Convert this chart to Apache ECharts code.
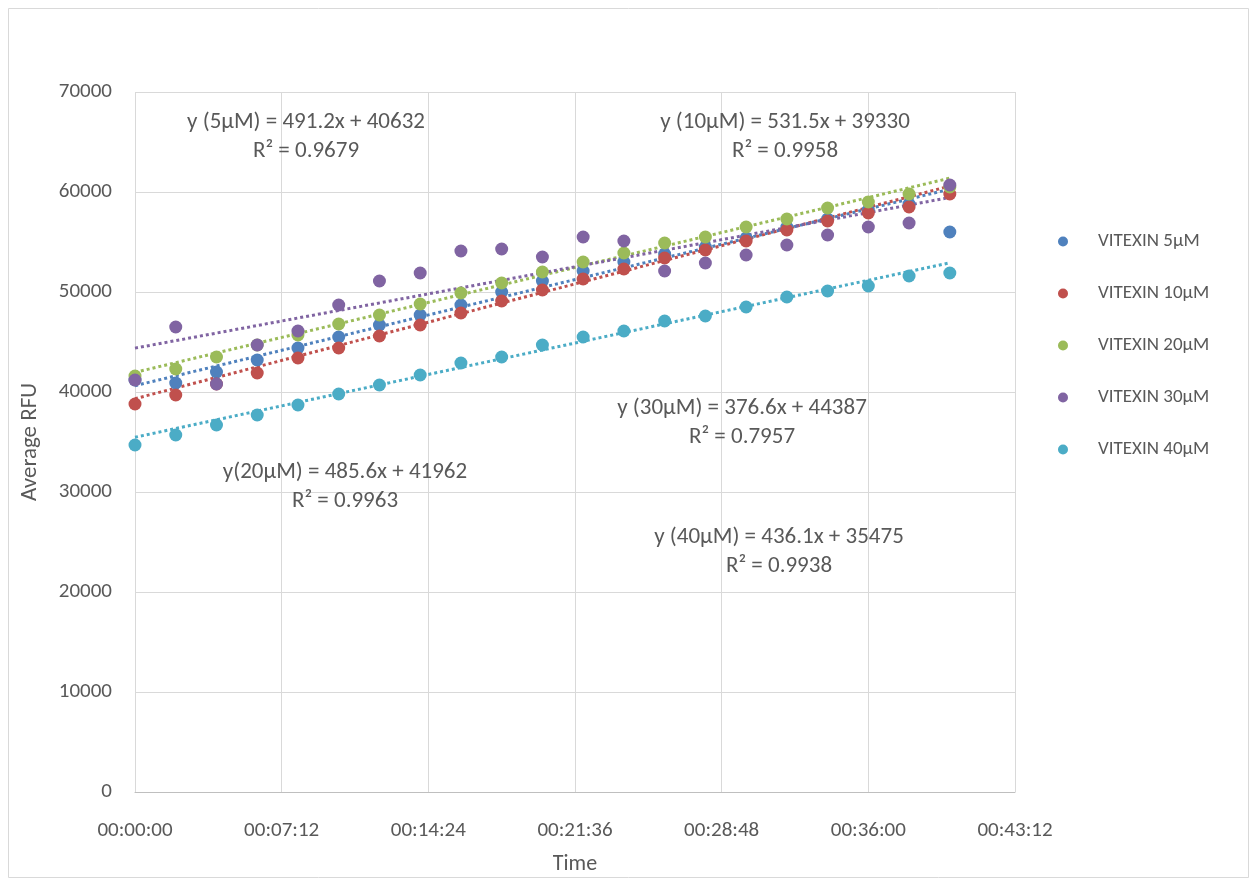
<!DOCTYPE html>
<html>
<head>
<meta charset="utf-8">
<script src="https://cdn.jsdelivr.net/npm/echarts@6/dist/echarts.min.js"></script>
<style>
  html, body { margin: 0; padding: 0; background: #ffffff; }
  #chart { width: 1256px; height: 882px; }
</style>
</head>
<body>
<div id="chart"></div>
<script>
// Sampling times in minutes (one reading every 2 min)
var minutes = [0, 2, 4, 6, 8, 10, 12, 14, 16, 18, 20, 22, 24, 26, 28, 30, 32, 34, 36, 38, 40];

// Average RFU per concentration
var vit5  = [41200, 40900, 42000, 43200, 44400, 45500, 46700, 47700, 48700, 50000, 51100, 52100, 53000, 53800, 54500, 55400, 56500, 57300, 58200, 58800, 56000];
var vit10 = [38800, 39700, 40800, 41900, 43400, 44400, 45600, 46700, 47900, 49100, 50200, 51300, 52300, 53400, 54200, 55100, 56200, 57100, 57900, 58500, 59800];
var vit20 = [41600, 42300, 43500, 44700, 45700, 46800, 47700, 48800, 49900, 50900, 52000, 53000, 53900, 54900, 55500, 56500, 57300, 58400, 59000, 59800, 60500];
var vit30 = [41200, 46500, 40800, 44700, 46100, 48700, 51100, 51900, 54100, 54300, 53500, 55500, 55100, 52100, 52900, 53700, 54700, 55700, 56500, 56900, 60700];
var vit40 = [34700, 35700, 36700, 37700, 38700, 39800, 40700, 41700, 42900, 43500, 44700, 45500, 46100, 47100, 47600, 48500, 49500, 50100, 50600, 51600, 51900];

var seriesNames = ['VITEXIN 5µM', 'VITEXIN 10µM', 'VITEXIN 20µM', 'VITEXIN 30µM', 'VITEXIN 40µM'];
var seriesValues = [vit5, vit10, vit20, vit30, vit40];
var seriesColors = ['#4F81BD', '#C0504D', '#9BBB59', '#8064A2', '#4BACC6'];

// Linear trend fits (RFU = slope * minutes + intercept)
var trendSlope = [491.2, 531.5, 485.6, 376.6, 436.1];
var trendIntercept = [40632, 39330, 41962, 44387, 35475];

// Fit labels
var fitLabels = [
  ['y (5µM) = 491.2x + 40632', 'R² = 0.9679'],
  ['y (10µM) = 531.5x + 39330', 'R² = 0.9958'],
  ['y(20µM) = 485.6x + 41962', 'R² = 0.9963'],
  ['y (30µM) = 376.6x + 44387', 'R² = 0.7957'],
  ['y (40µM) = 436.1x + 35475', 'R² = 0.9938']
];

// Y ticks
var yMax = 70000, yStep = 10000;
// X ticks: 7.2 min = 00:07:12
var xMax = 43.2, xStep = 7.2;

var FONT = 'Carlito, "Liberation Sans", "Open Sans", sans-serif';
var TEXT = '#595959';

function hms(m) {
  var s = Math.round(m * 60);
  var h = Math.floor(s / 3600), mm = Math.floor((s % 3600) / 60), ss = s % 60;
  function p(n) { return (n < 10 ? '0' : '') + n; }
  return p(h) + ':' + p(mm) + ':' + p(ss);
}

var series = [];
// Dotted trend lines
seriesValues.forEach(function (vals, i) {
  var x0 = minutes[0], x1 = minutes[minutes.length - 1];
  series.push({
    name: seriesNames[i] + ' trend',
    type: 'line',
    data: [[x0, trendSlope[i] * x0 + trendIntercept[i]], [x1, trendSlope[i] * x1 + trendIntercept[i]]],
    showSymbol: false,
    silent: true,
    z: 2,
    lineStyle: { color: seriesColors[i], width: 3, type: [3, 3], cap: 'butt' }
  });
});
// Measured points
seriesValues.forEach(function (vals, i) {
  series.push({
    name: seriesNames[i],
    type: 'scatter',
    symbol: 'circle',
    symbolSize: 13,
    z: 3,
    itemStyle: { color: seriesColors[i], opacity: 1 },
    data: minutes.map(function (m, k) { return [m, vals[k]]; })
  });
});

// Fit equation texts (centre x, centre y of first line)
var fitPos = [[306, 122], [785, 122], [345, 472], [742, 408], [779, 537]];
var graphics = [{
  type: 'rect',
  shape: { x: 8.5, y: 8.5, width: 1240, height: 869 },
  style: { fill: 'none', stroke: '#d9d9d9', lineWidth: 1 },
  silent: true
}];
fitLabels.forEach(function (lines, i) {
  graphics.push({
    type: 'text',
    x: fitPos[i][0], y: fitPos[i][1] - 14.5,
    style: {
      text: lines[0] + '\n' + lines[1],
      align: 'center',
      verticalAlign: 'top',
      font: '23px ' + FONT,
      fill: TEXT,
      lineHeight: 29
    },
    z: 10
  });
});

var chart = echarts.init(document.getElementById('chart'), null, { renderer: 'canvas' });
chart.setOption({
  animation: false,
  backgroundColor: '#ffffff',
  grid: { left: 135, right: 241, top: 92, bottom: 90, containLabel: false, outerBoundsMode: 'none' },
  xAxis: {
    type: 'value',
    min: 0, max: xMax, interval: xStep,
    name: 'Time',
    nameLocation: 'middle',
    nameGap: 61,
    nameTextStyle: { color: TEXT, fontSize: 22, fontFamily: FONT },
    axisLine: { show: true, lineStyle: { color: '#bfbfbf', width: 1 } },
    axisTick: { show: false },
    axisLabel: { color: TEXT, fontSize: 21, fontFamily: FONT, margin: 28, formatter: hms },
    splitLine: { show: true, lineStyle: { color: '#d9d9d9', width: 1 } }
  },
  yAxis: {
    type: 'value',
    min: 0, max: yMax, interval: yStep,
    name: 'Average RFU',
    nameLocation: 'middle',
    nameRotate: 90,
    nameGap: 93,
    nameTextStyle: { color: TEXT, fontSize: 23, fontFamily: FONT },
    axisLine: { show: false },
    axisTick: { show: false },
    axisLabel: { color: TEXT, fontSize: 21, fontFamily: FONT, margin: 23, formatter: function (v) { return String(v); } },
    splitLine: { show: true, lineStyle: { color: '#d9d9d9', width: 1 } }
  },
  legend: {
    data: seriesNames,
    orient: 'vertical',
    left: 1053,
    top: 227,
    itemGap: 33,
    itemWidth: 10,
    itemHeight: 10,
    icon: 'circle',
    textStyle: { color: TEXT, fontSize: 19, fontFamily: FONT, padding: [0, 0, 0, 25] }
  },
  graphic: graphics,
  series: series
});
</script>
</body>
</html>
